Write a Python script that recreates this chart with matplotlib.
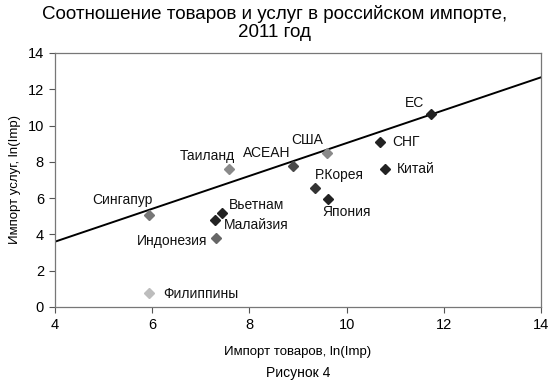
import matplotlib
matplotlib.use("Agg")
import matplotlib.pyplot as plt

plt.rcParams['font.family'] = ['Liberation Sans', 'DejaVu Sans']

countries = ['ЕС', 'СНГ', 'Китай', 'США', 'АСЕАН', 'Р.Корея', 'Япония',
             'Таиланд', 'Сингапур', 'Вьетнам', 'Малайзия', 'Индонезия', 'Филиппины']
goods = [11.74, 10.69, 10.78, 9.59, 8.90, 9.34, 9.61, 7.58, 5.93, 7.44, 7.30, 7.31, 5.94]
services = [10.64, 9.12, 7.59, 8.51, 7.79, 6.56, 5.97, 7.59, 5.07, 5.18, 4.80, 3.82, 0.79]

trend_x = [4, 14]
trend_y = [3.60, 12.66]

colors = ['#222222', '#222222', '#222222', '#8a8a8a', '#4a4a4a', '#333333', '#222222',
          '#8a8a8a', '#777777', '#222222', '#222222', '#666666', '#bdbdbd']
# label offsets (pixels) and alignment
offsets = [(-17, 11, 'center'), (12, 0, 'left'), (12, 0, 'left'), (-19, 13, 'center'),
           (-26, 13, 'center'), (25, 13, 'center'), (19, -13, 'center'), (-22, 13, 'center'),
           (-26, 15, 'center'), (7, 8, 'left'), (8, -5, 'left'), (-8, -3, 'right'),
           (14, -1, 'left')]

fig = plt.figure(figsize=(5.5, 3.84), dpi=100)
ax = fig.add_axes([55/550, 1-307/384, (541-55)/550, (307-53)/384])

ax.plot(trend_x, trend_y, color='black', lw=1.4, zorder=2)
for x, y, c in zip(goods, services, colors):
    ax.plot(x, y, marker='D', ms=5.5, color=c, mec=c, ls='none', zorder=3)
for name, x, y, (dx, dy, ha) in zip(countries, goods, services, offsets):
    ax.annotate(name, (x, y), xytext=(dx, dy), textcoords='offset pixels',
                ha=ha, va='center', fontsize=10, color='#111111')

ax.set_xlim(4, 14)
ax.set_ylim(0, 14)
ax.set_xticks(range(4, 15, 2))
ax.set_yticks(range(0, 15, 2))
ax.tick_params(direction='out', length=4, width=0.8, color='#555555', labelsize=10.5, pad=4)
for s in ax.spines.values():
    s.set_color('#777777')
    s.set_linewidth(0.9)

ax.set_xlabel('Импорт товаров, ln(Imp)', fontsize=9.5, labelpad=10)
ax.set_ylabel('Импорт услуг, ln(Imp)', fontsize=9.5, labelpad=5)
fig.text(0.5, 1-23/384, 'Соотношение товаров и услуг в российском импорте,\n2011 год',
         ha='center', va='center', fontsize=13.5, linespacing=1.12)
fig.text(298/550, 1-373/384, 'Рисунок 4', ha='center', va='center', fontsize=10)

fig.savefig('out.png', dpi=100)
